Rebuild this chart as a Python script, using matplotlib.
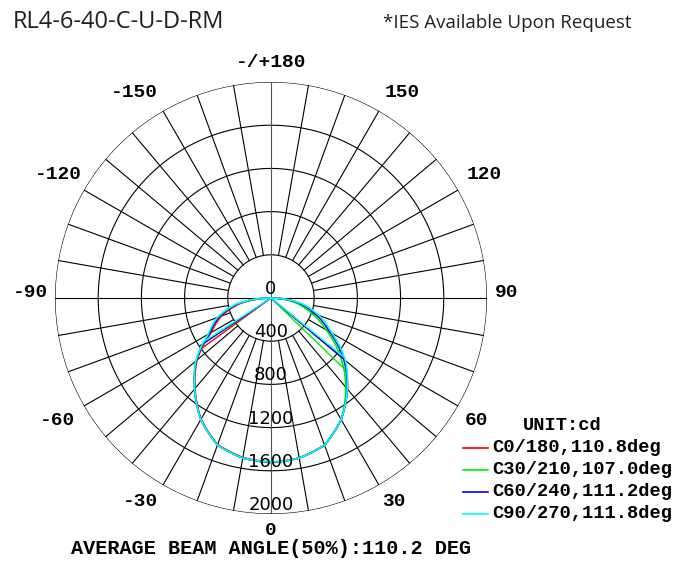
import numpy as np
import matplotlib
matplotlib.use("Agg")
import matplotlib.pyplot as plt
from matplotlib.lines import Line2D

# gamma angles (deg), negative = left half of the diagram
gammas = [-90, -80, -70, -60, -50, -40, -30, -20, -10, 0,
          10, 20, 30, 40, 50, 60, 70, 80, 90]

# luminous intensity (cd) per C-plane pair
c0_180 = [0, 290, 490, 640, 895, 1095, 1295, 1445, 1500, 1520,
          1505, 1450, 1300, 1100, 890, 640, 450, 270, 0]
c30_210 = [0, 315, 515, 660, 905, 1100, 1300, 1450, 1505, 1525,
           1505, 1450, 1300, 1080, 840, 590, 390, 220, 0]
c60_240 = [0, 315, 515, 655, 905, 1100, 1300, 1450, 1505, 1522,
           1505, 1450, 1300, 1100, 880, 630, 440, 260, 0]
c90_270 = [0, 330, 530, 670, 910, 1100, 1300, 1450, 1505, 1520,
           1505, 1450, 1300, 1100, 900, 650, 470, 280, 0]

# straight chords from the centre to a point of each curve: (gamma, cd)
chords = {
    "C0/180": [(-54, 810), (50, 880)],
    "C30/210": [(-56, 790), (46, 930)],
    "C60/240": [(-56, 790), (50, 870)],
    "C90/270": [(-57, 760), (51, 875)],
}

series_names = ["C0/180", "C30/210", "C60/240", "C90/270"]
series_values = [c0_180, c30_210, c60_240, c90_270]
beam_angles = [110.8, 107.0, 111.2, 111.8]
colors = ["#ff0000", "#00ee00", "#0000ee", "#00ffff"]
avg_beam = 110.2

ring_values = [400, 800, 1200, 1600, 2000]
rmax = 2000

angle_labels = ["-/+180", "-150", "150", "-120", "120", "-90", "90",
                "-60", "60", "-30", "30", "0"]
# label offsets from the centre in pixels (dx right, dy down)
label_offsets = [(0, -236), (-137, -206), (131, -206), (-213, -124), (213, -124),
                 (-240, -6), (236, -6), (-213, 123), (206, 123),
                 (-130, 204), (123, 204), (0, 233)]

fig = plt.figure(figsize=(6.83, 5.61), dpi=100)
ax = fig.add_axes([0.0805, 0.0838, 0.6325, 0.770], projection="polar")
ax.set_theta_zero_location("S")
ax.set_theta_direction(1)
ax.set_ylim(0, rmax)
ax.set_xticks([])
ax.set_yticks([])
ax.grid(False)
ax.spines["polar"].set_visible(False)

# rings
tt = np.linspace(0, 2 * np.pi, 721)
for rv in ring_values:
    ax.plot(tt, np.full_like(tt, rv), color="black", lw=0.8, zorder=1)

# spokes
for a in range(0, 360, 10):
    th = np.deg2rad(a)
    if a % 90 == 0:
        col = "#555555" if a % 180 == 0 else "black"
        ax.plot([th, th], [0, rmax], color=col, lw=0.8, zorder=1)
    else:
        ax.plot([th, th], [ring_values[0], rmax], color="black", lw=0.8, zorder=1)

# curves (drawn along theta-r like the polar grid, so segments bend)
for name, vals, col in zip(series_names, series_values, colors):
    ln, = ax.plot(np.deg2rad(gammas), vals, color=col, lw=1.2, zorder=3)
    ln.get_path()._interpolation_steps = 30
    for g, v in chords[name]:
        ax.plot([np.deg2rad(g), np.deg2rad(g)], [0, v], color=col, lw=1.0, zorder=3)

# radial labels
for rv in [0] + ring_values:
    ax.text(0, rv, str(rv), ha="center", va="bottom", fontsize=13,
            family="DejaVu Sans", color="black", zorder=4)

# angle labels
for lab, (dx, dy) in zip(angle_labels, label_offsets):
    ax.text(0.5 + dx / 432, 0.5 - dy / 432, lab, transform=ax.transAxes,
            ha="center", va="center", fontsize=14, family="Liberation Mono",
            weight="bold", clip_on=False)

W, H = 683, 561
fig.text(562 / W, 1 - 425 / H, "UNIT:cd", ha="center", va="center",
         fontsize=13.5, family="Liberation Mono", weight="bold")
row_y = [448, 470, 492, 514]
for name, beam, col, yy in zip(series_names, beam_angles, colors, row_y):
    fig.add_artist(Line2D([463 / W, 488 / W], [1 - yy / H, 1 - yy / H],
                          transform=fig.transFigure, color=col, lw=1.2))
    fig.text(492 / W, 1 - yy / H, "%s,%.1fdeg" % (name, beam), ha="left",
             va="center", fontsize=13.5, family="Liberation Mono", weight="bold")

fig.text(271 / W, 1 - 548 / H, "AVERAGE BEAM ANGLE(50%%):%.1f DEG" % avg_beam,
         ha="center", va="center", fontsize=14.5, family="Liberation Mono",
         weight="bold")

fig.text(13 / W, 1 - 28 / H, "RL4-6-40-C-U-D-RM", ha="left", va="baseline",
         fontsize=17, family="Open Sans", color="#231f20")
fig.text(383 / W, 1 - 28 / H, "*IES Available Upon Request", ha="left",
         va="baseline", fontsize=13.5, family="Open Sans", color="#231f20")

fig.savefig("out.png", dpi=100)
